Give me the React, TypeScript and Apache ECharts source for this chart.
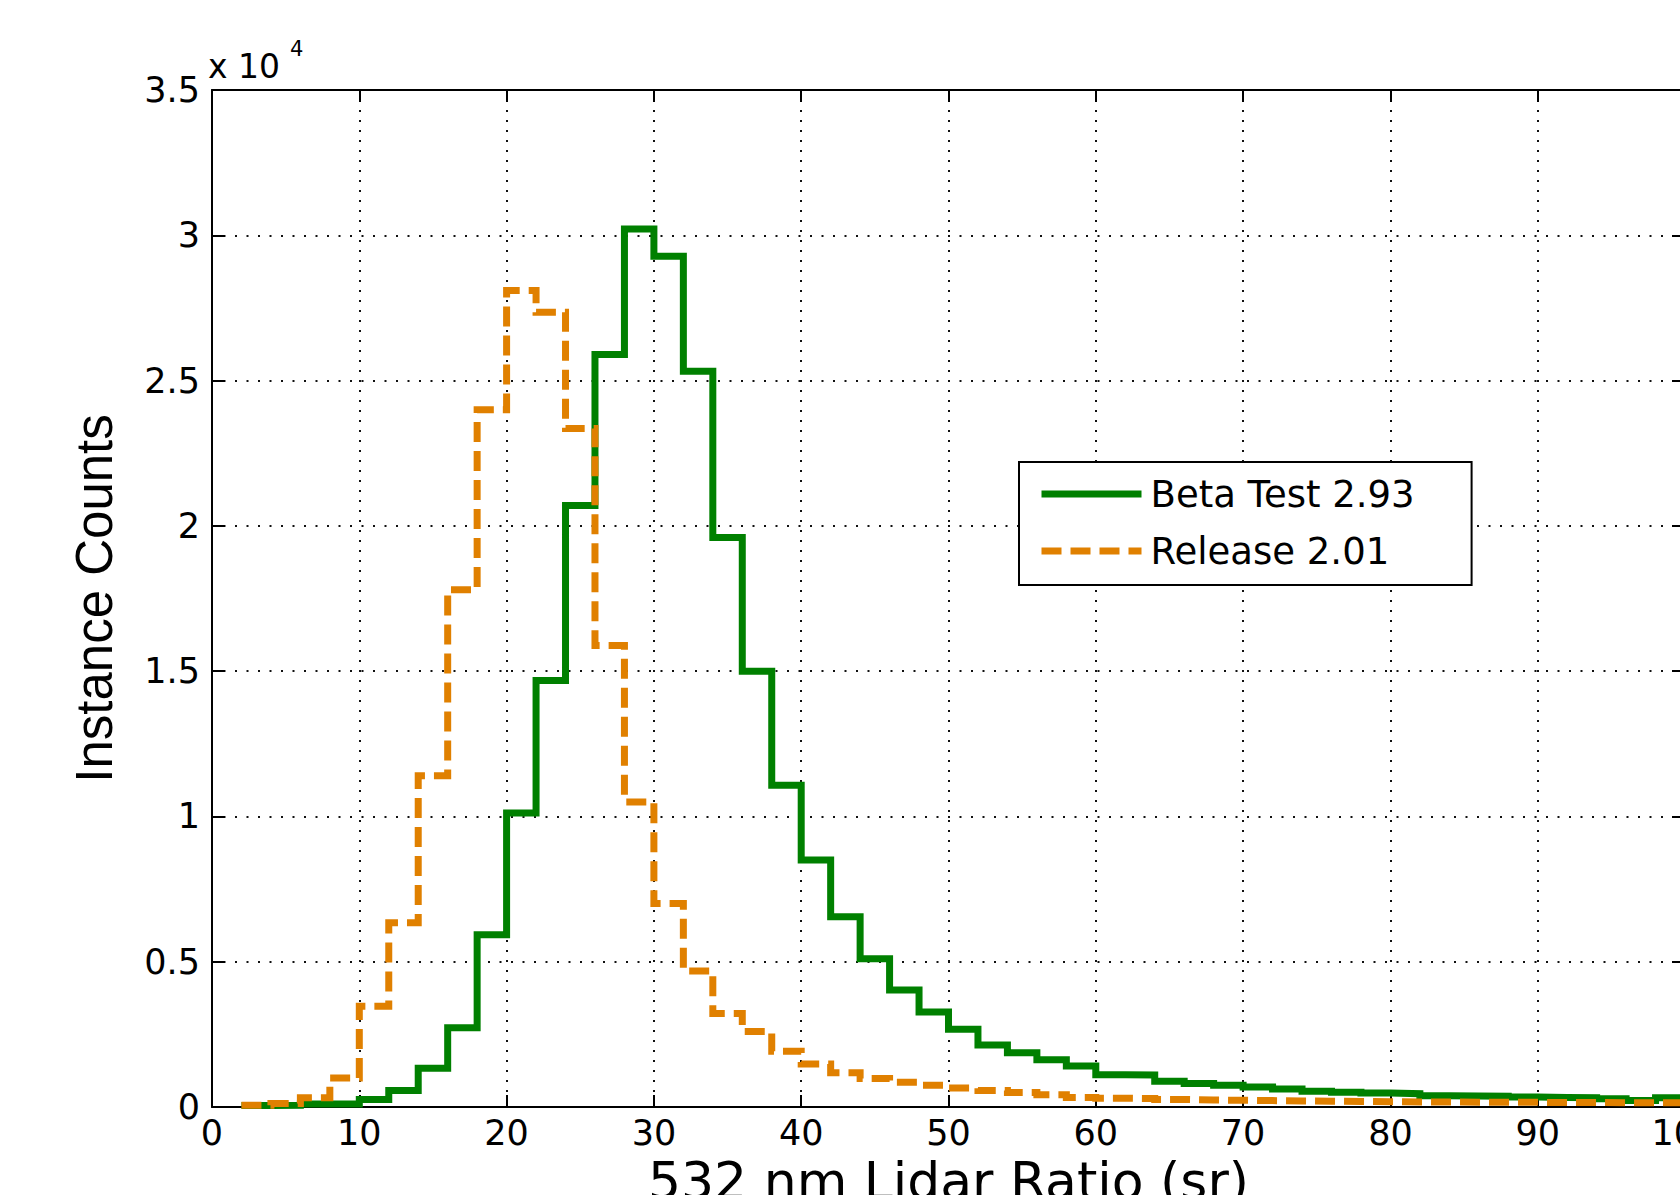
import React, { useEffect, useRef } from "react";
import * as echarts from "echarts";

// Left edges of the 2-sr histogram bins, plus the closing edge at 100
const binEdges = [
  2, 4, 6, 8, 10, 12, 14, 16, 18, 20, 22, 24, 26, 28, 30, 32, 34, 36, 38, 40,
  42, 44, 46, 48, 50, 52, 54, 56, 58, 60, 62, 64, 66, 68, 70, 72, 74, 76, 78, 80,
  82, 84, 86, 88, 90, 92, 94, 96, 98, 100,
];

// Beta Test 2.93 counts per bin (last value repeated at the closing edge)
const betaCounts = [
  50, 60, 100, 100, 260, 570, 1330, 2730, 5930, 10120,
  14680, 20700, 25900, 30220, 29280, 25320, 19600, 15000, 11070, 8500,
  6550, 5100, 4030, 3270, 2680, 2130, 1870, 1630, 1410, 1110,
  1100, 890, 810, 750, 690, 620, 540, 510, 480, 460,
  390, 380, 370, 340, 330, 320, 280, 220, 320, 320,
];

// Release 2.01 counts per bin
const releaseCounts = [
  60, 120, 320, 1000, 3470, 6340, 11400, 17800, 24000, 28100,
  27350, 23350, 15880, 10500, 7000, 4680, 3220, 2600, 1920, 1480,
  1180, 980, 850, 750, 650, 570, 500, 420, 330, 300,
  290, 260, 240, 230, 220, 210, 200, 190, 180, 175,
  170, 165, 160, 160, 155, 155, 150, 150, 150, 150,
];

const seriesNames = ["Beta Test 2.93", "Release 2.01"];
const xTicks = [0, 10, 20, 30, 40, 50, 60, 70, 80, 90, 100];
const yTickLabels = ["0", "0.5", "1", "1.5", "2", "2.5", "3", "3.5"];

const GREEN = "#008000";
const ORANGE = "#E08000";
const TICK_FONT = "DejaVu Sans";
const DASH = [20, 9];

export default function App() {
  const ref = useRef<HTMLDivElement>(null);

  useEffect(() => {
    if (!ref.current) return;
    const chart = echarts.init(ref.current, null, { renderer: "svg" });

    const toPairs = (vals: number[]) => binEdges.map((x, i) => [x, vals[i]]);

    const gridLine = (dash: number[]) => ({
      show: true,
      lineStyle: { color: "#111", width: 2, type: dash },
    });

    const xBase = {
      type: "value" as const,
      min: 0,
      max: 100,
      interval: 10,
      axisLine: { show: true, onZero: false, lineStyle: { color: "#000", width: 2 } },
      axisTick: { show: true, inside: true, length: 12, lineStyle: { color: "#000", width: 2 } },
    };
    const yBase = {
      type: "value" as const,
      min: 0,
      max: 35000,
      interval: 5000,
      axisLine: { show: true, onZero: false, lineStyle: { color: "#000", width: 2 } },
      axisTick: { show: true, inside: true, length: 13, lineStyle: { color: "#000", width: 2 } },
    };

    chart.setOption({
      animation: false,
      backgroundColor: "#ffffff",
      grid: {
        left: 212,
        top: 90,
        right: -5,
        bottom: 88,
        containLabel: false,
        outerBoundsMode: "none",
      },
      xAxis: [
        {
          ...xBase,
          position: "bottom",
          name: "532 nm Lidar Ratio (sr)",
          nameLocation: "middle",
          nameGap: 44,
          nameTextStyle: { fontFamily: TICK_FONT, fontSize: 52, color: "#000" },
          axisLabel: {
            margin: 8,
            fontFamily: TICK_FONT,
            fontSize: 35,
            color: "#000",
            formatter: (v: number) => (xTicks.includes(v) ? String(v) : ""),
          },
          splitLine: gridLine([2, 8]),
        },
        {
          ...xBase,
          position: "top",
          axisLabel: { show: false },
          splitLine: { show: false },
        },
      ],
      yAxis: [
        {
          ...yBase,
          position: "left",
          name: "Instance Counts",
          nameLocation: "middle",
          nameGap: 92,
          nameTextStyle: { fontFamily: "Liberation Sans", fontSize: 51, color: "#000" },
          axisLabel: {
            margin: 12,
            fontFamily: TICK_FONT,
            fontSize: 35,
            color: "#000",
            formatter: (v: number) => yTickLabels[Math.round(v / 5000)] ?? "",
          },
          splitLine: gridLine([2, 9.5]),
        },
        {
          ...yBase,
          position: "right",
          axisLabel: { show: false },
          splitLine: { show: false },
        },
      ],
      legend: {
        orient: "vertical",
        left: 1019,
        top: 462,
        data: [
          { name: seriesNames[0], lineStyle: { width: 7, type: "solid", color: GREEN } },
          { name: seriesNames[1], lineStyle: { width: 7, type: DASH, color: ORANGE } },
        ],
        itemWidth: 100,
        itemHeight: 2,
        itemGap: 17,
        padding: [12, 57, 14, 19],
        borderColor: "#000",
        borderWidth: 2,
        borderRadius: 0,
        backgroundColor: "#ffffff",
        itemStyle: { opacity: 0 },
        lineStyle: { width: 7 },
        selectedMode: false,
        textStyle: {
          fontFamily: TICK_FONT,
          fontSize: 37,
          color: "#000",
          lineHeight: 40,
          padding: [0, 0, 0, 4],
        },
      },
      graphic: [
        {
          type: "text",
          left: 208,
          top: 50,
          style: { text: "x 10", font: `33px "${TICK_FONT}"`, fill: "#000" },
        },
        {
          type: "text",
          left: 290,
          top: 38,
          style: { text: "4", font: `21px "${TICK_FONT}"`, fill: "#000" },
        },
      ],
      series: [
        {
          name: seriesNames[0],
          type: "line",
          step: "end",
          xAxisIndex: 0,
          yAxisIndex: 0,
          data: toPairs(betaCounts),
          symbol: "none",
          showSymbol: false,
          clip: false,
          lineStyle: { color: GREEN, width: 7, type: "solid", join: "miter" },
          itemStyle: { color: GREEN },
          z: 3,
        },
        {
          name: seriesNames[1],
          type: "line",
          step: "end",
          xAxisIndex: 0,
          yAxisIndex: 0,
          data: toPairs(releaseCounts),
          symbol: "none",
          showSymbol: false,
          clip: false,
          lineStyle: { color: ORANGE, width: 7, type: DASH, join: "miter" },
          itemStyle: { color: ORANGE },
          z: 4,
        },
      ],
    });

    return () => chart.dispose();
  }, []);

  return (
    <div
      ref={ref}
      style={{
        position: "fixed",
        left: 0,
        top: 0,
        width: 1680,
        height: 1195,
        background: "#fff",
      }}
    />
  );
}
